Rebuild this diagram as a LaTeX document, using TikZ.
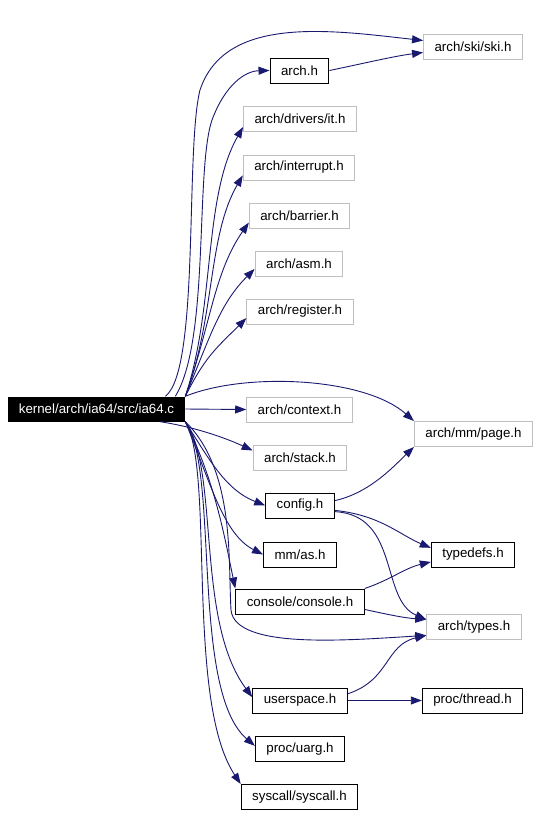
\documentclass[tikz,border=0pt]{standalone}
\usepackage{fontspec}
\setmainfont{Liberation Sans}
\usetikzlibrary{arrows.meta}
\definecolor{edgeblue}{RGB}{25,25,112}
\definecolor{undocgray}{RGB}{191,191,191}

\begin{document}
\begin{tikzpicture}[x=1pt,y=-1pt,>={Triangle[length=11pt,width=8pt]},
  font=\fontsize{13.3}{16}\selectfont,
  every node/.style={inner xsep=11pt,inner ysep=0pt,minimum height=25pt},
  docbox/.style={draw=black,line width=1pt},
  undocbox/.style={draw=undocgray,line width=1pt},
  dep/.style={->,edgeblue,line width=0.9pt}]
\useasboundingbox (0,0) rectangle (540,815);
\node[fill=black,text=white] (main) at (96.5,409) {kernel/arch/ia64/src/ia64.c};
\node[undocbox] (ski) at (473,46.5) {arch/ski/ski.h};
\node[docbox] (arch) at (299.5,70.5) {arch.h};
\node[undocbox] (it) at (300,119) {arch/drivers/it.h};
\node[undocbox] (interrupt) at (299,167.5) {arch/interrupt.h};
\node[undocbox] (barrier) at (299.5,215.5) {arch/barrier.h};
\node[undocbox] (asm) at (299,263.5) {arch/asm.h};
\node[undocbox] (register) at (300,311.5) {arch/register.h};
\node[undocbox] (context) at (299.5,409.5) {arch/context.h};
\node[undocbox] (page) at (473.5,434) {arch/mm/page.h};
\node[undocbox] (stack) at (300,458) {arch/stack.h};
\node[docbox] (config) at (300,505.5) {config.h};
\node[docbox] (mmas) at (300,554.5) {mm/as.h};
\node[docbox] (typedefs) at (473,554.5) {typedefs.h};
\node[docbox] (console) at (300,601.5) {console/console.h};
\node[undocbox] (types) at (474,627) {arch/types.h};
\node[docbox] (userspace) at (300,700.5) {userspace.h};
\node[docbox] (thread) at (472.5,700.5) {proc/thread.h};
\node[docbox] (uarg) at (300,749) {proc/uarg.h};
\node[docbox] (syscall) at (299.5,797) {syscall/syscall.h};
% edges going up
\draw[dep] ([xshift=-20pt]main.north east) .. controls (200,370) and (185,150) .. (200,90) .. controls (225,15) and (330,30) .. ([yshift=6pt]ski.west);
\draw[dep] ([xshift=-10pt]main.north east) .. controls (210,340) and (195,170) .. (212,120) .. controls (225,85) and (245,71) .. (arch.west);
\draw[dep] (arch.east) .. controls (370,62) and (395,56) .. ([yshift=-6pt]ski.west);
\draw[dep] (main.north east) .. controls +(30,-90) and +(-40,70) .. (it.188);
\draw[dep] (main.north east) .. controls +(30,-80) and +(-35,60) .. (interrupt.188);
\draw[dep] (main.north east) .. controls +(25,-70) and +(-35,50) .. (barrier.188);
\draw[dep] (main.north east) .. controls +(25,-60) and +(-35,35) .. (asm.187);
\draw[dep] (main.north east) .. controls +(20,-40) and +(-30,30) .. (register.187);
% edges to the right
\draw[dep] (main.east) -- (context.west);
\draw[dep] (main.north east) .. controls (245,372) and (364,377) .. (page.north west);
\draw[dep] ([xshift=-25pt]main.south east) .. controls (200,428) and (230,440) .. (stack.171);
% edges going down
\draw[dep] (main.south east) .. controls (210,461) and (226,490) .. (config.west);
\draw[dep] (main.south east) .. controls (210,481) and (223,534) .. (mmas.west);
\draw[dep] (main.south east) .. controls (215,481) and (225,539) .. (console.north west);
\draw[dep] (main.south east) .. controls (235,470) and (228,560) .. (231,610) .. controls (235,650) and (350,640) .. (types.190);
\draw[dep] (main.south east) .. controls (220,470) and (195,620) .. (userspace.176);
\draw[dep] (main.south east) .. controls (220,470) and (190,690) .. (uarg.176);
\draw[dep] (main.south east) .. controls (215,470) and (185,700) .. (syscall.north west);
% second level
\draw[dep] (config.8) .. controls (370,493) and (395,465) .. (page.south west);
\draw[dep] (config.-8) .. controls (380,515) and (400,535) .. (typedefs.171);
\draw[dep] (config.-10) .. controls (400,515) and (380,600) .. (types.171);
\draw[dep] (console.north east) .. controls (390,580) and (405,568) .. (typedefs.190);
\draw[dep] (console.-7) .. controls (390,615) and (405,618) .. (types.171);
\draw[dep] (userspace.8) .. controls (390,680) and (385,645) .. (types.190);
\draw[dep] (userspace.east) -- (thread.west);
\end{tikzpicture}
\end{document}
